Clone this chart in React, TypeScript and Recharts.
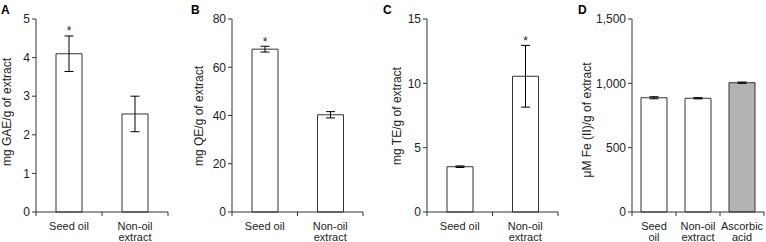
import React from "react";
import { BarChart, Bar, XAxis, YAxis, ErrorBar, LabelList, Cell } from "recharts";

const FONT = "'Liberation Sans', Arial, Helvetica, sans-serif";
const INK = "#222";
const AXIS = "#333";

// A - total phenolics
const phenolCats = ["Seed oil", "Non-oil\nextract"];
const phenolVals = [4.1, 2.54];
const phenolErr = [0.46, 0.46];
const phenolSig = [true, false];
const phenolTicks = [0, 1, 2, 3, 4, 5];

// B - flavonoids
const flavCats = ["Seed oil", "Non-oil\nextract"];
const flavVals = [67.5, 40.3];
const flavErr = [1.2, 1.3];
const flavSig = [true, false];
const flavTicks = [0, 20, 40, 60, 80];

// C - TEAC
const teCats = ["Seed oil", "Non-oil\nextract"];
const teVals = [3.52, 10.55];
const teErr = [0.06, 2.4];
const teSig = [false, true];
const teTicks = [0, 5, 10, 15];

// D - FRAP
const frapCats = ["Seed\noil", "Non-oil\nextract", "Ascorbic\nacid"];
const frapVals = [888, 884, 1005];
const frapErr = [8, 5, 5];
const frapSig = [false, false, false];
const frapTicks = [0, 500, 1000, 1500];
const frapFills = ["#ffffff", "#ffffff", "#b3b3b3"];

type Row = { cat: string; value: number; err: number; sig: boolean; fill: string };

const makeRows = (cats: string[], vals: number[], errs: number[], sig: boolean[], fills?: string[]): Row[] =>
  cats.map((cat, i) => ({ cat, value: vals[i], err: errs[i], sig: sig[i], fill: fills ? fills[i] : "#ffffff" }));

const CatTick = (props: any) => {
  const { x, y, payload, index, visibleTicksCount, half } = props;
  const h = payload && payload.offset ? payload.offset : half;
  const lines = String(payload.value).split("\n");
  const last = visibleTicksCount ? index === visibleTicksCount - 1 : false;
  return (
    <g>
      <line x1={x - h} y1={y} x2={x - h} y2={y + 4} stroke={AXIS} />
      {last && <line x1={x + h} y1={y} x2={x + h} y2={y + 4} stroke={AXIS} />}
      <text x={x} y={y} textAnchor="middle" fontSize={11} fontFamily={FONT} fill={INK}>
        {lines.map((l, i) => (
          <tspan key={i} x={x} dy={i === 0 ? 18 : 10.5}>
            {l}
          </tspan>
        ))}
      </text>
    </g>
  );
};

type PanelProps = {
  left: number;
  width: number;
  yWidth: number;
  rightPad: number;
  rows: Row[];
  ticks: number[];
  fmt?: (v: number) => string;
};

const Panel = ({ left, width, yWidth, rightPad, rows, ticks, fmt }: PanelProps) => {
  const plotW = width - yWidth - rightPad;
  const half = plotW / rows.length / 2;
  const star = (p: any) => {
    const row = rows[p.index];
    if (!row || !row.sig) return null;
    const vb = p.viewBox && p.viewBox.height !== undefined ? p.viewBox : p;
    const perUnit = Math.abs(vb.height) / row.value;
    const top = Math.min(vb.y, vb.y + vb.height) - row.err * perUnit;
    return (
      <text x={vb.x + vb.width / 2} y={top - 0.5} textAnchor="middle" fontSize={12} fontFamily={FONT} fill={INK}>
        *
      </text>
    );
  };
  return (
    <div style={{ position: "absolute", left, top: 0 }}>
      <BarChart width={width} height={242} data={rows} margin={{ top: 19, right: rightPad, bottom: 0, left: 0 }}>
        <XAxis
          dataKey="cat"
          height={30}
          interval={0}
          tickLine={false}
          tickSize={0}
          tickMargin={0}
          axisLine={{ stroke: AXIS }}
          tick={<CatTick half={half} />}
        />
        <YAxis
          width={yWidth}
          domain={[ticks[0], ticks[ticks.length - 1]]}
          ticks={ticks}
          interval={0}
          tickSize={4}
          tickMargin={2}
          axisLine={{ stroke: AXIS }}
          tickLine={{ stroke: AXIS }}
          tick={{ fontSize: 12, fontFamily: FONT, fill: INK }}
          tickFormatter={fmt}
        />
        <Bar dataKey="value" barSize={26} stroke={AXIS} strokeWidth={1} isAnimationActive={false}>
          {rows.map((r, i) => (
            <Cell key={i} fill={r.fill} />
          ))}
          <ErrorBar dataKey="err" width={4.5} stroke="#000" strokeWidth={1} />
          <LabelList dataKey="value" content={star} />
        </Bar>
      </BarChart>
    </div>
  );
};

const letters = [
  { t: "A", x: 1 },
  { t: "B", x: 191 },
  { t: "C", x: 383 },
  { t: "D", x: 578 },
];

const yLabels = [
  { t: "mg GAE/g of extract", x: 11, y: 112 },
  { t: "mg QE/g of extract", x: 203, y: 116 },
  { t: "mg TE/g of extract", x: 401, y: 116 },
  { t: "\u03bcM Fe (II)/g of extract", x: 591, y: 120 },
];

export default function App() {
  const comma = (v: number) => v.toLocaleString("en-US");
  return (
    <div style={{ position: "absolute", left: 0, top: 0, width: 766, height: 242, background: "#fff", fontFamily: FONT }}>
      <Panel left={0} width={175} yWidth={36} rightPad={7} rows={makeRows(phenolCats, phenolVals, phenolErr, phenolSig)} ticks={phenolTicks} />
      <Panel left={190} width={180} yWidth={42} rightPad={7} rows={makeRows(flavCats, flavVals, flavErr, flavSig)} ticks={flavTicks} />
      <Panel left={380} width={185} yWidth={47} rightPad={7} rows={makeRows(teCats, teVals, teErr, teSig)} ticks={teTicks} />
      <Panel left={566} width={200} yWidth={66} rightPad={2} rows={makeRows(frapCats, frapVals, frapErr, frapSig, frapFills)} ticks={frapTicks} fmt={comma} />
      <svg width={766} height={242} style={{ position: "absolute", left: 0, top: 0, pointerEvents: "none" }}>
        {letters.map((l) => (
          <text key={l.t} x={l.x} y={14} fontSize={12} fontWeight="bold" fontFamily={FONT} fill="#000">
            {l.t}
          </text>
        ))}
        {yLabels.map((l) => (
          <text
            key={l.t}
            x={l.x}
            y={l.y}
            transform={`rotate(-90 ${l.x} ${l.y})`}
            textAnchor="middle"
            fontSize={12}
            fontFamily={FONT}
            fill={INK}
          >
            {l.t}
          </text>
        ))}
      </svg>
    </div>
  );
}
